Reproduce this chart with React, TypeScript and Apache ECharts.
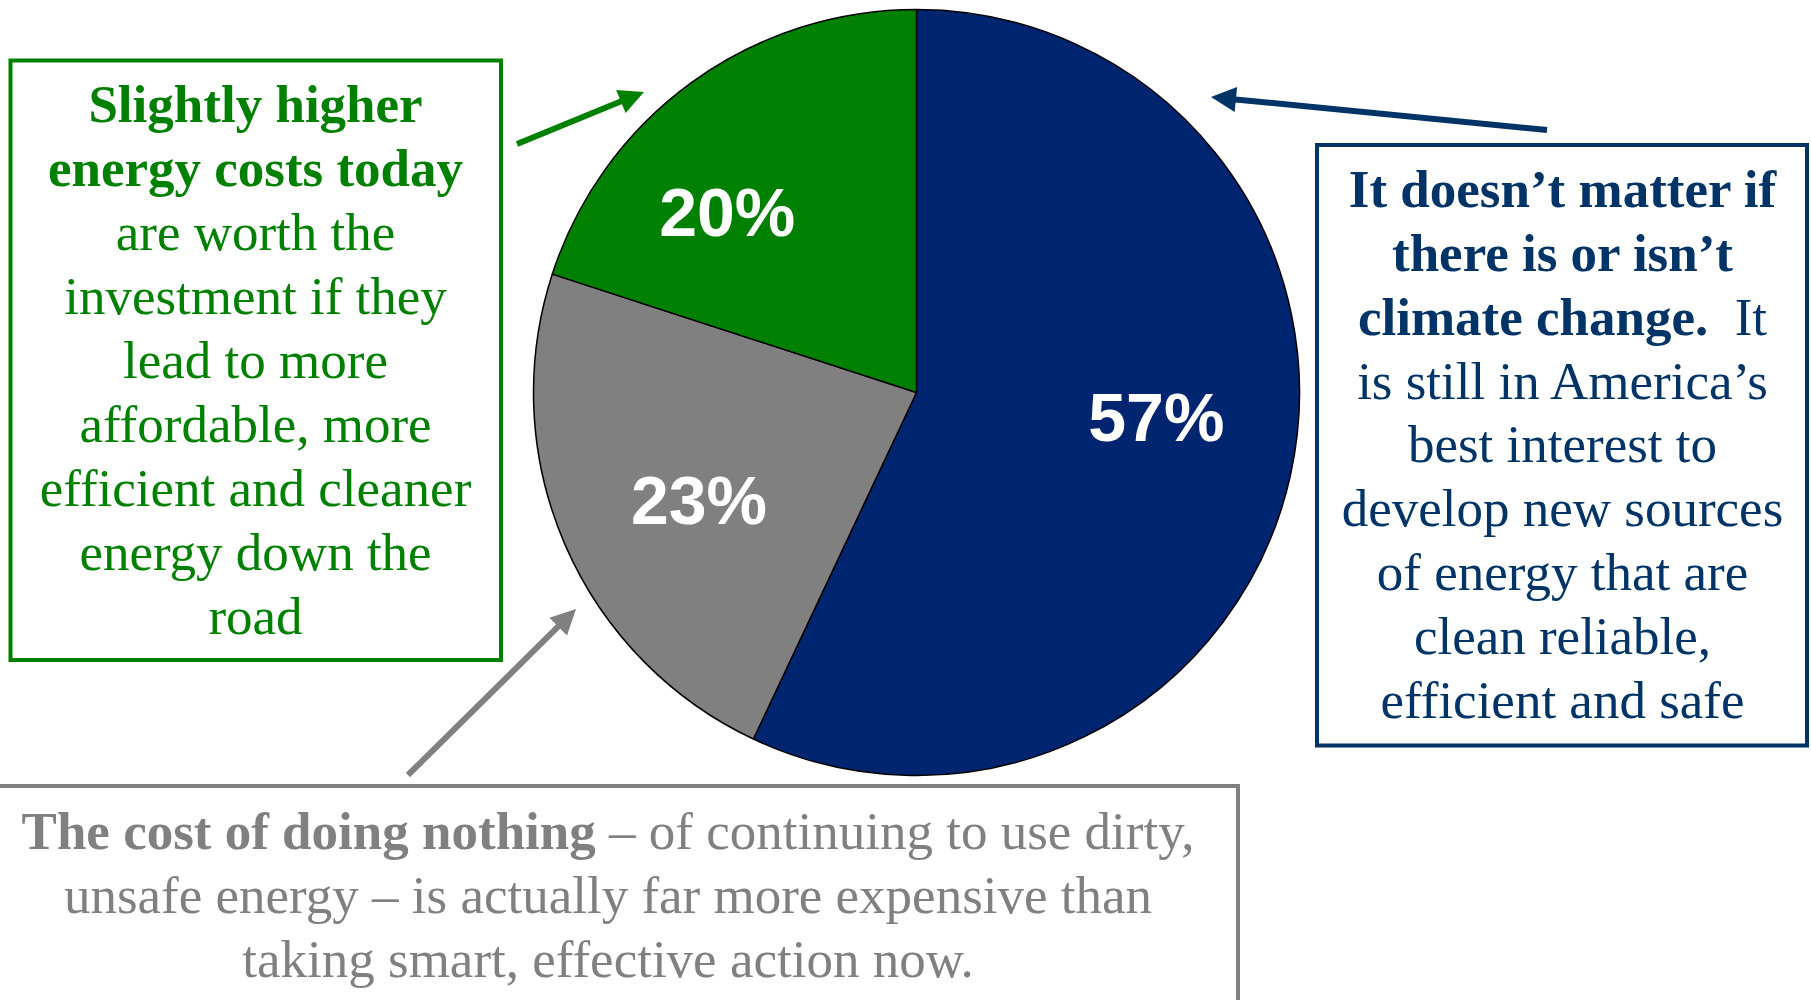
import React, { useEffect, useRef } from "react";
import * as echarts from "echarts";

// ---- data ----
const categories = [
  "It doesn’t matter if there is or isn’t climate change",
  "The cost of doing nothing",
  "Slightly higher energy costs today",
];
const values = [57, 23, 20];
const sliceColors = ["#002570", "#808080", "#008000"];
// label nudges (px) from the default inside position, per slice
const labelShifts = [
  [50, -18],
  [-39, 30],
  [-75, -23],
];

const greenLines = [
  "{b|Slightly higher}",
  "{b|energy costs today}",
  "{r|are worth the}",
  "{r|investment if they}",
  "{r|lead to more}",
  "{r|affordable, more}",
  "{r|efficient and cleaner}",
  "{r|energy down the}",
  "{r|road}",
];
const blueLines = [
  "{b|It doesn’t matter if}",
  "{b|there is or isn’t}",
  "{b|climate change.}{r|  It}",
  "{r|is still in America’s}",
  "{r|best interest to}",
  "{r|develop new sources}",
  "{r|of energy that are}",
  "{r|clean reliable,}",
  "{r|efficient and safe}",
];
const grayLines = [
  "{b|The cost of doing nothing}{r| – of continuing to use dirty,}",
  "{r|unsafe energy – is actually far more expensive than}",
  "{r|taking smart, effective action now.}",
];

const GREEN = "#008000";
const NAVY = "#003366";
const GRAY = "#808080";
const SERIF = "'Liberation Serif', 'Times New Roman', serif";
const FS = 53;

function textBlock(lines: string[], cx: number, y0: number, step: number, color: string) {
  return lines.map((t, i) => ({
    type: "text",
    x: cx,
    y: y0 + i * step,
    style: {
      text: t,
      align: "center",
      verticalAlign: "middle",
      fontFamily: SERIF,
      fontSize: FS,
      fill: color,
      rich: {
        b: { fontFamily: SERIF, fontSize: FS, fontWeight: "bold", fill: color },
        r: { fontFamily: SERIF, fontSize: FS, fontWeight: "normal", fill: color },
      },
    },
  }));
}

function arrow(tail: number[], tip: number[], color: string, width: number, headLen: number, headW: number) {
  const dx = tip[0] - tail[0];
  const dy = tip[1] - tail[1];
  const len = Math.hypot(dx, dy);
  const ux = dx / len;
  const uy = dy / len;
  const bx = tip[0] - ux * headLen;
  const by = tip[1] - uy * headLen;
  const px = -uy;
  const py = ux;
  return [
    {
      type: "line",
      shape: { x1: tail[0], y1: tail[1], x2: bx + ux * 3, y2: by + uy * 3 },
      style: { stroke: color, lineWidth: width },
    },
    {
      type: "polygon",
      shape: {
        points: [
          [tip[0], tip[1]],
          [bx + (px * headW) / 2, by + (py * headW) / 2],
          [bx - (px * headW) / 2, by - (py * headW) / 2],
        ],
      },
      style: { fill: color },
    },
  ];
}

export default function App() {
  const ref = useRef<HTMLDivElement>(null);

  useEffect(() => {
    if (!ref.current) return;
    const chart = echarts.init(ref.current, undefined, { renderer: "svg" });
    const option: any = {
      animation: false,
      backgroundColor: "#ffffff",
      series: [
        {
          type: "pie",
          center: [916.5, 392.5],
          radius: 383,
          startAngle: 90,
          clockwise: true,
          silent: true,
          data: categories.map((name, i) => ({
            name,
            value: values[i],
            itemStyle: { color: sliceColors[i] },
          })),
          itemStyle: { borderColor: "#000000", borderWidth: 1.5 },
          label: {
            show: true,
            position: "inside",
            formatter: "{c}%",
            color: "#ffffff",
            fontFamily: "'Liberation Sans', Arial, sans-serif",
            fontWeight: "bold",
            fontSize: 68,
          },
          labelLine: { show: false },
          labelLayout: (params: any) => ({
            dx: labelShifts[params.dataIndex][0],
            dy: labelShifts[params.dataIndex][1],
          }),
          emphasis: { disabled: true },
        },
      ],
      graphic: [
        // boxes
        {
          type: "rect",
          shape: { x: 10.5, y: 60.5, width: 490.5, height: 599.5 },
          style: { fill: "none", stroke: GREEN, lineWidth: 4 },
        },
        {
          type: "rect",
          shape: { x: 1317, y: 145, width: 490, height: 600.5 },
          style: { fill: "none", stroke: NAVY, lineWidth: 4 },
        },
        {
          type: "rect",
          shape: { x: -20, y: 786, width: 1258, height: 240 },
          style: { fill: "none", stroke: GRAY, lineWidth: 4 },
        },
        ...textBlock(greenLines, 255.5, 104, 64, GREEN),
        ...textBlock(blueLines, 1562.5, 189, 63.85, NAVY),
        ...textBlock(grayLines, 608, 831, 64, GRAY),
        ...arrow([517, 144], [644, 92], GREEN, 6, 25, 25),
        ...arrow([1547, 130], [1211, 97], NAVY, 6, 25, 25),
        ...arrow([408, 775], [576, 609], GRAY, 6, 25, 25),
      ],
    };
    chart.setOption(option);
    return () => chart.dispose();
  }, []);

  return (
    <div
      ref={ref}
      style={{ position: "fixed", left: 0, top: 0, width: 1811, height: 1000, background: "#fff" }}
    />
  );
}
